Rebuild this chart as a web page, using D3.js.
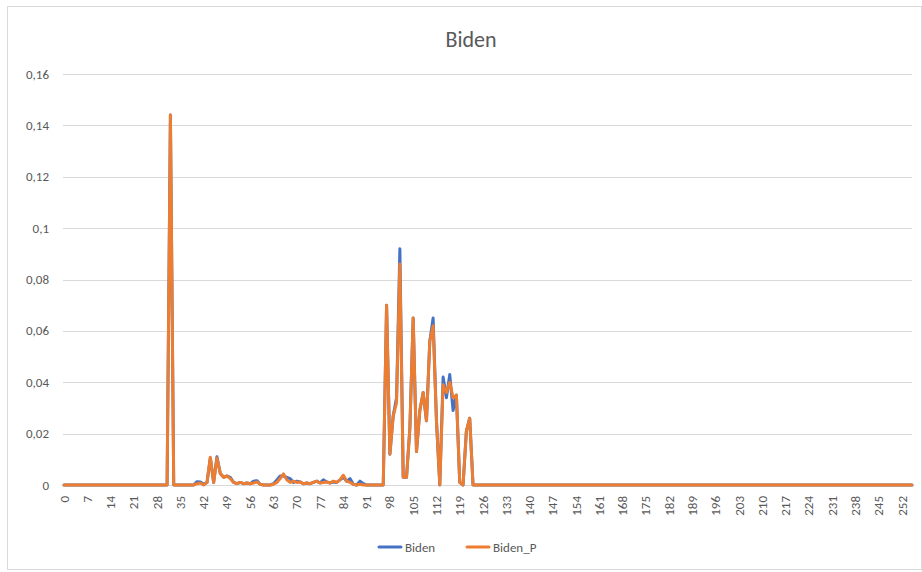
<!DOCTYPE html>
<html>
<head>
<meta charset="utf-8">
<script src="https://cdn.jsdelivr.net/npm/d3@7"></script>
<style>
  body { margin: 0; background: #fff; }
  svg { display: block; font-family: Calibri, Carlito, "Liberation Sans Narrow", "Open Sans", sans-serif; }
</style>
</head>
<body>
<svg id="chart"></svg>
<script>
// values, one per category 0..255
const biden = [
  0,0,0,0,0,0,0,0,0,0,0,0,0,0,0,0,
  0,0,0,0,0,0,0,0,0,0,0,0,0,0,0,0,
  0.144,0,0,0,0,0,0,0,0.0013,0.0012,0.0003,0.001,0.0105,0.001,0.011,0.0045,
  0.003,0.0035,0.003,0.001,0.0005,0.001,0.0005,0.0008,0.0005,0.0015,0.0017,0.0003,0,0,0,0.0005,
  0.002,0.0035,0.0035,0.003,0.0025,0.001,0.0015,0.0012,0.0005,0.0008,0.0005,0.001,0.0015,0.0008,0.002,0.0012,
  0.0008,0.0012,0.001,0.002,0.003,0.0015,0.0025,0.0003,0,0.0015,0.0005,0,0,0,0,0,
  0,0.070,0.012,0.027,0.034,0.092,0.003,0.003,0.022,0.065,0.013,0.029,0.036,0.025,0.056,0.065,
  0.025,0,0.042,0.034,0.043,0.029,0.035,0.001,0,0.021,0.026,0,0,0,0,0,
  0,0,0,0,0,0,0,0,0,0,0,0,0,0,0,0,
  0,0,0,0,0,0,0,0,0,0,0,0,0,0,0,0,
  0,0,0,0,0,0,0,0,0,0,0,0,0,0,0,0,
  0,0,0,0,0,0,0,0,0,0,0,0,0,0,0,0,
  0,0,0,0,0,0,0,0,0,0,0,0,0,0,0,0,
  0,0,0,0,0,0,0,0,0,0,0,0,0,0,0,0,
  0,0,0,0,0,0,0,0,0,0,0,0,0,0,0,0,
  0,0,0,0,0,0,0,0,0,0,0,0,0,0,0,0
];
const bidenP = [
  0,0,0,0,0,0,0,0,0,0,0,0,0,0,0,0,
  0,0,0,0,0,0,0,0,0,0,0,0,0,0,0,0,
  0.144,0,0,0,0,0,0,0,0.0005,0.0008,0,0.001,0.0108,0.001,0.0105,0.0045,
  0.003,0.0035,0.0025,0.001,0.0005,0.001,0.0005,0.0008,0.0005,0.0008,0.0012,0.0003,0,0,0,0.0003,
  0.001,0.0025,0.0043,0.002,0.001,0.0015,0.001,0.0012,0.0005,0.0008,0.0005,0.001,0.0015,0.0008,0.001,0.0012,
  0.0008,0.0015,0.001,0.002,0.0038,0.0015,0.001,0.0003,0,0.0003,0,0,0,0,0,0,
  0,0.070,0.012,0.027,0.032,0.086,0.003,0.003,0.022,0.065,0.013,0.029,0.036,0.025,0.056,0.062,
  0.025,0,0.039,0.036,0.040,0.034,0.035,0.001,0,0.021,0.026,0,0,0,0,0,
  0,0,0,0,0,0,0,0,0,0,0,0,0,0,0,0,
  0,0,0,0,0,0,0,0,0,0,0,0,0,0,0,0,
  0,0,0,0,0,0,0,0,0,0,0,0,0,0,0,0,
  0,0,0,0,0,0,0,0,0,0,0,0,0,0,0,0,
  0,0,0,0,0,0,0,0,0,0,0,0,0,0,0,0,
  0,0,0,0,0,0,0,0,0,0,0,0,0,0,0,0,
  0,0,0,0,0,0,0,0,0,0,0,0,0,0,0,0,
  0,0,0,0,0,0,0,0,0,0,0,0,0,0,0,0
];
const categories = biden.map((d, i) => i);
const xTickLabels = [0,7,14,21,28,35,42,49,56,63,70,77,84,91,98,105,112,119,126,133,140,147,154,161,168,175,182,189,196,203,210,217,224,231,238,245,252];
const yTicks = [0,0.02,0.04,0.06,0.08,0.1,0.12,0.14,0.16];
const seriesNames = ['Biden', 'Biden_P'];
const colors = ['#4472C4', '#ED7D31'];

const width = 922, height = 572;
const svg = d3.select('#chart').attr('width', width).attr('height', height);

// chart frame
svg.append('rect')
  .attr('x', 7.5).attr('y', 6.5)
  .attr('width', 914).attr('height', 563)
  .attr('fill', '#fff').attr('stroke', '#d9d9d9');

const x = d3.scalePoint().domain(categories).range([64, 912]);
const y = d3.scaleLinear().domain([0, 0.16]).range([485, 74]);

const comma = d3.formatLocale({ decimal: ',', thousands: '.', grouping: [3], currency: ['', ''] }).format('~g');

// grid + y labels
svg.append('g')
  .selectAll('line')
  .data(yTicks)
  .join('line')
  .attr('x1', 63).attr('x2', 912)
  .attr('y1', d => Math.round(y(d)) + 0.5)
  .attr('y2', d => Math.round(y(d)) + 0.5)
  .attr('stroke', '#d9d9d9');

svg.append('g')
  .selectAll('text')
  .data(yTicks)
  .join('text')
  .attr('x', 49)
  .attr('y', d => y(d) + 4.5)
  .attr('text-anchor', 'end')
  .attr('font-size', 13)
  .attr('fill', '#595959')
  .text(d => comma(d));

// x labels, rotated
svg.append('g')
  .selectAll('text')
  .data(xTickLabels)
  .join('text')
  .attr('transform', d => `translate(${x(d) + 4.5},496) rotate(-90)`)
  .attr('text-anchor', 'end')
  .attr('font-size', 13)
  .attr('fill', '#595959')
  .text(d => d);

// lines
const line = d3.line()
  .x((d, i) => x(categories[i]))
  .y(d => y(d));

[biden, bidenP].forEach((s, k) => {
  svg.append('path')
    .datum(s)
    .attr('d', line)
    .attr('fill', 'none')
    .attr('stroke', colors[k])
    .attr('stroke-width', 3)
    .attr('stroke-linejoin', 'round')
    .attr('stroke-linecap', 'round');
});

// title
svg.append('text')
  .attr('x', 471).attr('y', 47)
  .attr('text-anchor', 'middle')
  .attr('font-size', 22)
  .attr('fill', '#595959')
  .text('Biden');

// legend
const legendX = [379, 467];
const lg = svg.append('g')
  .selectAll('g')
  .data(seriesNames)
  .join('g')
  .attr('transform', (d, i) => `translate(${legendX[i]},547)`);
lg.append('line')
  .attr('x1', 0).attr('x2', 22)
  .attr('stroke', (d, i) => colors[i])
  .attr('stroke-width', 3)
  .attr('stroke-linecap', 'round');
lg.append('text')
  .attr('x', 26).attr('y', 4.5)
  .attr('font-size', 13)
  .attr('fill', '#595959')
  .text(d => d);
</script>
</body>
</html>
